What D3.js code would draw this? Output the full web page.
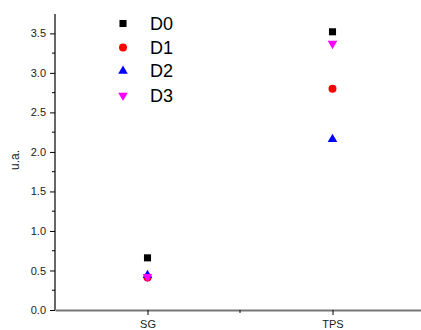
<!DOCTYPE html>
<html><head><meta charset="utf-8">
<script src="https://cdn.jsdelivr.net/npm/d3@7"></script>
<style>body{margin:0;background:#fff}svg{display:block;font-family:Arial,"Liberation Sans",sans-serif}</style>
</head><body>
<script>
const categories = ["SG", "TPS"];
const seriesNames = ["D0", "D1", "D2", "D3"];
const D0 = [0.66, 3.52];
const D1 = [0.41, 2.80];
const D2 = [0.44, 2.16];
const D3 = [0.42, 3.37];
const yTicks = [0.0, 0.5, 1.0, 1.5, 2.0, 2.5, 3.0, 3.5];
const series = [D0, D1, D2, D3];
const colors = ["#000000", "#ff0000", "#0000ff", "#ff00ff"];
const symbols = [d3.symbolSquare, d3.symbolCircle, d3.symbolTriangle, "tri-down"];

const W = 421, H = 330;
const svg = d3.select("body").append("svg").attr("width", W).attr("height", H);

const x = d3.scaleLinear().domain([0.5, 2.5]).range([55, 425]);
const y = d3.scaleLinear().domain([0, 3.745]).range([310, 14]);

function sym(i, size) {
  if (symbols[i] === "tri-down") {
    return d3.symbol().type(d3.symbolTriangle).size(size)();
  }
  return d3.symbol().type(symbols[i]).size(size)();
}
const sizes = [50, 50, 40, 40];
function transformFor(i, cx, cy) {
  return symbols[i] === "tri-down" ? `translate(${cx},${cy}) rotate(180)` : `translate(${cx},${cy})`;
}

// Y axis
const yAxis = d3.axisLeft(y).tickValues(yTicks).tickFormat(d3.format(".1f")).tickSize(5).tickSizeOuter(0);
const gy = svg.append("g").attr("transform", "translate(55,0)").call(yAxis);
gy.select(".domain").attr("stroke", "#000").attr("stroke-width", 1.2);
gy.selectAll(".tick line").attr("stroke", "#000");
gy.selectAll(".tick text").attr("font-size", 11).attr("fill", "#222").attr("x", -9);
const yMinor = d3.range(0.25, 3.75, 0.5);
gy.selectAll(".minor").data(yMinor).enter().append("line")
  .attr("x1", 0).attr("x2", -3).attr("y1", d => y(d)).attr("y2", d => y(d)).attr("stroke", "#000");
gy.select(".domain").attr("d", `M0,${y(3.745)}V${y(0)}`);

// X axis
const xAxis = d3.axisBottom(x).tickValues([1, 2]).tickFormat((d) => categories[d - 1]).tickSize(5).tickSizeOuter(0);
const gx = svg.append("g").attr("transform", "translate(0,310)").call(xAxis);
gx.select(".domain").attr("stroke", "#777").attr("stroke-width", 2);
gx.selectAll(".tick line").attr("stroke", "#000");
gx.selectAll(".tick text").attr("font-size", 11).attr("fill", "#222").attr("dy", "0.95em");
gx.append("line").attr("x1", x(1.5)).attr("x2", x(1.5)).attr("y1", 0).attr("y2", 3).attr("stroke", "#000");

// Y label
svg.append("text").attr("transform", "translate(19,160) rotate(-90)")
  .attr("text-anchor", "middle").attr("font-size", 12).attr("fill", "#222").text("u.a.");

// Points
series.forEach((vals, i) => {
  svg.append("g").selectAll("path").data(vals).enter().append("path")
    .attr("d", sym(i, sizes[i]))
    .attr("transform", (d, j) => transformFor(i, x(j + 1), y(d)))
    .attr("fill", colors[i]);
});

// Legend
const legY = [23.5, 47.5, 71, 95.5];
seriesNames.forEach((name, i) => {
  svg.append("path").attr("d", sym(i, sizes[i]))
    .attr("transform", transformFor(i, 123, legY[i])).attr("fill", colors[i]);
  svg.append("text").attr("x", 150).attr("y", legY[i]).attr("dy", "0.36em")
    .attr("font-size", 18).attr("fill", "#000").text(name);
});
</script>
</body></html>
